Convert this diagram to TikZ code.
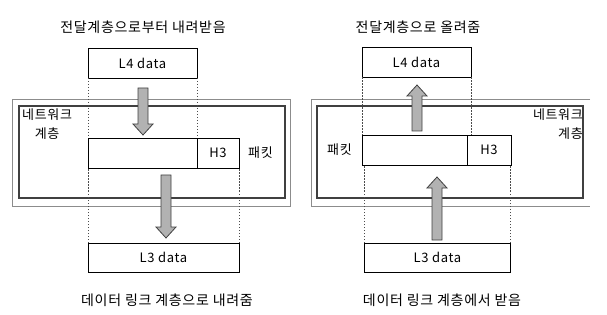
\documentclass[tikz,border=0pt]{standalone}
\usepackage{fontspec}
\setmainfont{Noto Sans CJK KR}[LetterSpace=5]
\usetikzlibrary{positioning,calc}

% block arrows: #1 = tail, #2 = tip
\newcommand\blockdown[2]{\draw[blk] ($(#1)+(-5,0)$) -- ($(#2)+(-5,-11)$) -- ($(#2)+(-10,-11)$) -- (#2)
  -- ($(#2)+(10,-11)$) -- ($(#2)+(5,-11)$) -- ($(#1)+(5,0)$) -- cycle;}
\newcommand\blockup[2]{\draw[blk] ($(#1)+(-5,0)$) -- ($(#2)+(-5,11)$) -- ($(#2)+(-10,11)$) -- (#2)
  -- ($(#2)+(10,11)$) -- ($(#2)+(5,11)$) -- ($(#1)+(5,0)$) -- cycle;}

\begin{document}
\begin{tikzpicture}[
    x=1pt, y=-1pt,
    box/.style={draw=black, fill=white, line width=0.8pt, minimum height=30, inner sep=0pt, outer sep=0pt,
                font=\fontsize{13}{15}\selectfont},
    guide/.style={draw=black!70, line width=0.7pt, dash pattern=on 1.5pt off 1.5pt},
    blk/.style={draw=black!75, fill=black!30, line width=0.8pt, line join=miter},
    frameout/.style={draw=black!45, line width=0.8pt},
    framein/.style={draw=black!75, line width=1.4pt},
    captxt/.style={font=\fontsize{14}{16}\selectfont},
    lbl/.style={font=\fontsize{13}{19}\selectfont, inner sep=0pt},
]
    \useasboundingbox (0,0) rectangle (607,315);

    % =====================================================================
    % LEFT: down the stack
    % =====================================================================
    \node[captxt] (titleL) at (143,27) {전달계층으로부터 내려받음};
    \node[box, minimum width=109] (l4L) at (142.5,63) {L4 data};

    \draw[frameout] (12,99) rectangle (290,206);
    \draw[framein] (19,106) rectangle (285,198);
    \node[lbl, align=center, anchor=north west] (netL) at (22,109) {네트워크\\계층};

    \node[box, minimum width=109] (pktL) at (142.5,153) {};
    \node[box, minimum width=42, right=0pt of pktL] (hdrL) {H3};
    \node[lbl, right=9pt of hdrL] (pktlabL) {패킷};

    \node[box, minimum width=151, minimum height=29] (l3L) at (163.5,257.5) {L3 data};

    \draw[guide] (l4L.south west) -- (l4L.south west |- pktL.north);
    \draw[guide] (l4L.south east) -- (l4L.south east |- pktL.north);
    \draw[guide] (l3L.north west) -- (l3L.north west |- pktL.south);
    \draw[guide] (l3L.north east) -- (l3L.north east |- hdrL.south);

    \coordinate (a1tail) at (143,88);
    \coordinate (a1tip) at (143,135);
    \coordinate (a2tail) at (166,175);
    \coordinate (a2tip) at (166,238);
    \blockdown{a1tail}{a1tip}
    \blockdown{a2tail}{a2tip}

    \node[captxt] (botL) at (167,300) {데이터 링크 계층으로 내려줌};

    % =====================================================================
    % RIGHT: up the stack
    % =====================================================================
    \node[captxt] (titleR) at (418,27) {전달계층으로 올려줌};
    \node[box, minimum width=109] (l4R) at (416.5,62.5) {L4 data};

    \draw[frameout] (590,99) -- (311,99) -- (311,206) -- (590,206);
    \draw[framein] (317,106) rectangle (583,198);
    \node[lbl, align=right, anchor=north east] (netR) at (583,109) {네트워크\\계층};

    \node[box, minimum width=105] (pktR) at (414.5,150) {};
    \node[box, minimum width=44, right=0pt of pktR] (hdrR) {H3};
    \node[lbl, left=10pt of pktR] (pktlabR) {패킷};

    \node[box, minimum width=146, minimum height=29] (l3R) at (437.5,257.5) {L3 data};

    \draw[guide] (l4R.south west) -- (l4R.south west |- pktR.north);
    \draw[guide] (l4R.south east) -- (l4R.south east |- pktR.north);
    \draw[guide] (l3R.north west) -- (l3R.north west |- pktR.south);
    \draw[guide] (l3R.north east) -- (l3R.north east |- hdrR.south);

    \coordinate (b1tail) at (417,131);
    \coordinate (b1tip) at (417,85);
    \coordinate (b2tail) at (437,240);
    \coordinate (b2tip) at (437,177);
    \blockup{b1tail}{b1tip}
    \blockup{b2tail}{b2tip}

    \node[captxt] (botR) at (442,300) {데이터 링크 계층에서 받음};
\end{tikzpicture}
\end{document}
